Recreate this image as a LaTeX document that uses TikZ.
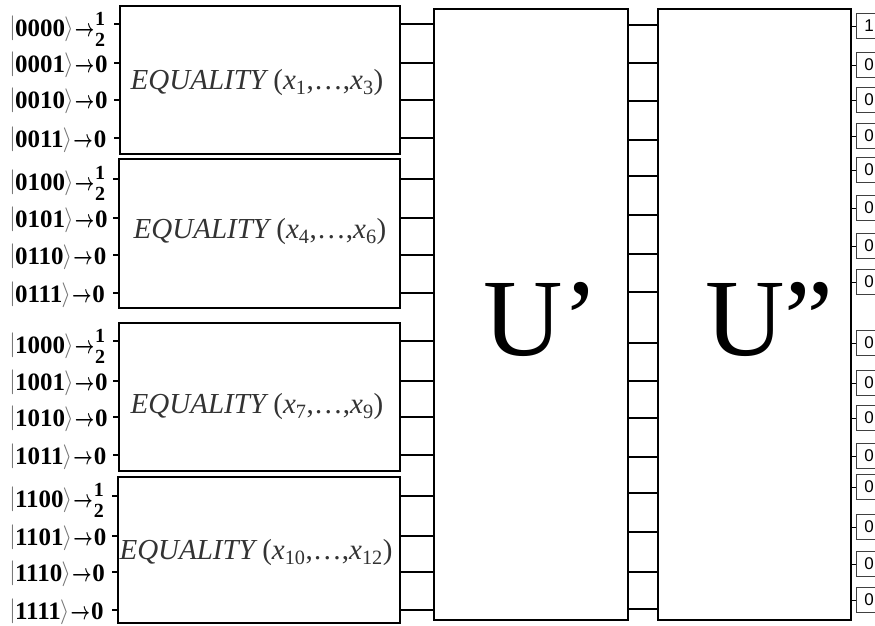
\documentclass[tikz,border=0pt]{standalone}
\usepackage{amsmath}
\usepackage{graphicx}
\usepackage{fontspec}
\setmainfont{Liberation Serif}
\newfontfamily\sansf{Liberation Sans}
\newcommand{\half}{\raisebox{-10pt}{\fontsize{20}{20}\selectfont\bfseries\vbox{\offinterlineskip\hbox{1}\kern7pt\hbox{2}}}}
\newcommand{\ketlab}[2]{{\color{black!55}\raisebox{2pt}{$|$}}\kern-1pt\textbf{#1}\kern-1pt{\color{black!55}\raisebox{1pt}{$\rangle$}}\kern1pt\scalebox{0.68}[1]{$\boldsymbol{\rightarrow}$}\kern1pt\textbf{#2}}
\newcommand{\eqtext}[2]{\textit{EQUALITY}\,(\textit{x}\textsubscript{#1},\ldots,\textit{x}\textsubscript{#2})}
\begin{document}
\begin{tikzpicture}[x=1pt,y=-1pt,
  eqbox/.style={draw, line width=2pt, inner sep=0pt},
  bigbox/.style={draw, line width=2pt, inner sep=0pt},
  conn/.style={line width=1.4pt},
  thin conn/.style={line width=1pt},
  lab/.style={anchor=base west, inner sep=0pt, font=\fontsize{25}{26}\selectfont},
  eqlab/.style={inner sep=0pt, text=black!80, font=\fontsize{29}{30}\selectfont},
  ubig/.style={anchor=base west, inner sep=0pt, font=\fontsize{110}{110}\selectfont},
  outbox/.style={draw=black!75, line width=0.9pt, anchor=west, minimum height=25pt, inner xsep=8pt, inner ysep=0pt, text width=24pt, font=\sansf\fontsize{17}{17}\selectfont}
]
\path[use as bounding box, clip] (0,0) rectangle (875,625);
\fill[white] (0,0) rectangle (875,625);

% EQUALITY boxes
\node[eqbox, minimum width=280pt, minimum height=148pt] (eq1) at (260,80) {};
\node[eqbox, minimum width=281pt, minimum height=149pt] (eq2) at (259.5,233.5) {};
\node[eqbox, minimum width=281pt, minimum height=148pt] (eq3) at (259.5,397) {};
\node[eqbox, minimum width=282pt, minimum height=146pt] (eq4) at (259,550) {};

\node[eqlab] (t1) at (257,83) {\eqtext{1}{3}};
\node[eqlab] (t2) at (260,232) {\eqtext{4}{6}};
\node[eqlab] (t3) at (257,407) {\eqtext{7}{9}};
\node[eqlab] (t4) at (256,553) {\eqtext{10}{12}};

% U boxes
\node[bigbox, minimum width=194pt, minimum height=611pt] (Up) at (531,314.5) {};
\node[bigbox, minimum width=193pt, minimum height=611pt] (Upp) at (754.5,314.5) {};
\node[ubig] (Ut1) at (483,355) {U’};
\node[ubig] (Ut2) at (705,355) {U”};

% left labels, ticks, and lines to U'
\foreach \y/\d/\b/\v [count=\i] in {24/12/0000/\half, 63/9/0001/0, 100/8/0010/0, 138/9/0011/0,
  179/11/0100/\half, 218/9/0101/0, 255/9/0110/0, 293/9/0111/0,
  341/12/1000/\half, 381/9/1001/0, 417/9/1010/0, 455/9/1011/0,
  496/11/1100/\half, 536/9/1101/0, 572/9/1110/0, 610/9/1111/0}{
  \pgfmathtruncatemacro{\e}{int((\i-1)/4)+1}
  \node[lab] (l\i) at (9,\y+\d) {\ketlab{\b}{\v}};
  \draw[conn] (eq\e.west |- 0,\y) -- ++(-5,0);
  \draw[conn] (eq\e.east |- 0,\y) -- (Up.west |- 0,\y);
}

% lines U' -> U''
\foreach \y in {25,63,101,140,176,215,254,292,343,381,418,457,493,532,572,609}{
  \draw[conn] (Up.east |- 0,\y) -- (Upp.west |- 0,\y);
}

% output boxes
\foreach \y/\v [count=\i] in {26/1,65/0,100/0,136/0,170/0,208/0,246/0,282/0,
  343/0,383/0,418/0,456/0,487/0,527/0,564/0,600/0}{
  \node[outbox] (o\i) at (856,\y) {\v};
  \draw[thin conn] (Upp.east |- o\i.west) -- (o\i.west);
}
\end{tikzpicture}
\end{document}
